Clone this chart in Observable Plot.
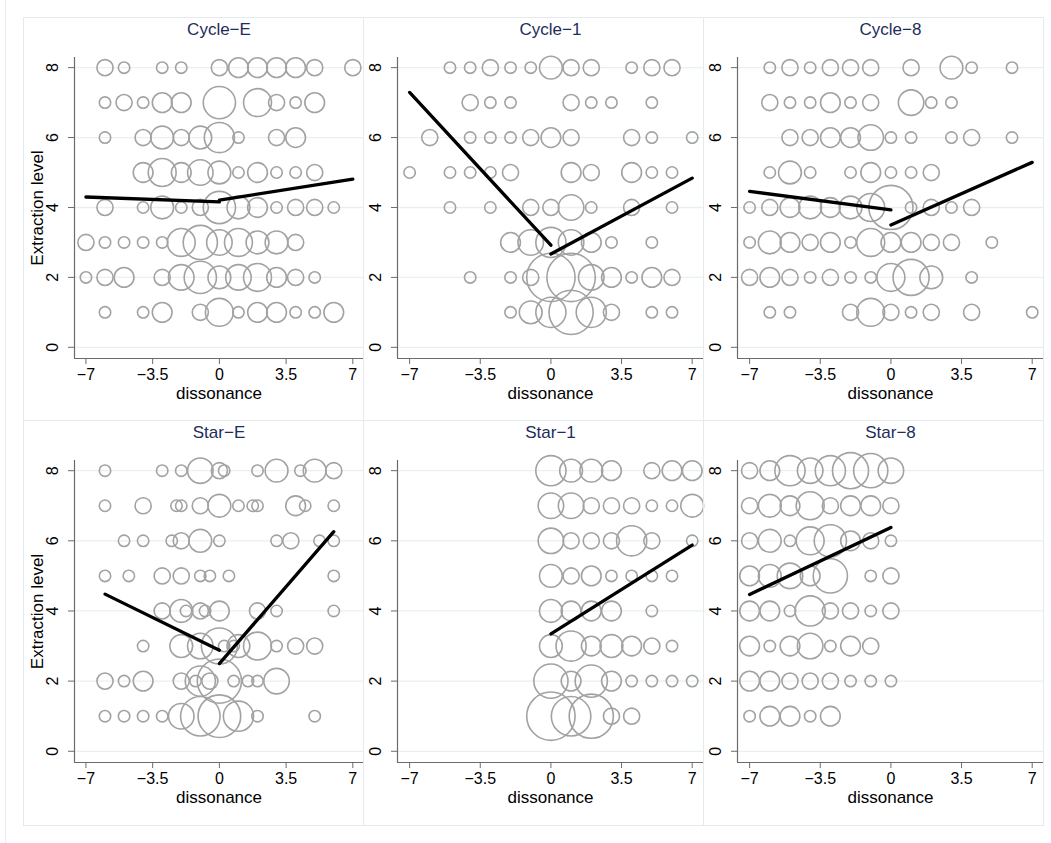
<!DOCTYPE html>
<html><head><meta charset="utf-8">
<script src="https://cdn.jsdelivr.net/npm/d3@7"></script>
<script src="https://cdn.jsdelivr.net/npm/@observablehq/plot@0.6"></script>
<style>
body{margin:0;background:#fff;font-family:"Liberation Sans",Arial,sans-serif}
#wrap{position:relative;width:1051px;height:843px;overflow:hidden;background:#fff}
.box{position:absolute;box-sizing:border-box;border:1px solid #e3ebee}
.pl{position:absolute}
</style></head><body><div id="wrap"></div>
<script>
// ---- tick values ----
const xTicks = [-7, -3.5, 0, 3.5, 7];
const yTicks = [0, 2, 4, 6, 8];
const panelTitles = ["Cycle−E", "Cycle−1", "Cycle−8", "Star−E", "Star−1", "Star−8"];
const xLabel = "dissonance";
const yLabel = "Extraction level";

// ---- bubbles: [dissonance, extraction level, count] ----
const bubblesCycleE = [
  [-6,8,2],[-5,8,1],[-3,8,1],[-2,8,1],[0,8,2],[1,8,3],[2,8,3],[3,8,3],[4,8,3],[5,8,2],[7,8,2],
  [-6,7,1],[-5,7,2],[-4,7,1],[-3,7,3],[-2,7,3],[0,7,8],[2,7,6],[3,7,2],[4,7,1],[5,7,3],
  [-6,6,1],[-4,6,2],[-3,6,4],[-2,6,2],[-1,6,4],[0,6,7],[1,6,1],[3,6,2],[4,6,3],
  [-4,5,3],[-3,5,6],[-2,5,3],[-1,5,5],[0,5,4],[1,5,1],[2,5,3],[3,5,1],[4,5,1],[5,5,2],
  [-6,4,2],[-4,4,1],[-3,4,4],[-2,4,1],[-1,4,2],[0,4,8],[1,4,4],[2,4,3],[3,4,1],[4,4,2],[5,4,2],[6,4,1],
  [-7,3,2],[-6,3,1],[-5,3,1],[-4,3,1],[-3,3,1],[-2,3,6],[-1,3,9],[0,3,5],[1,3,6],[2,3,4],[3,3,4],[4,3,2],
  [-7,2,1],[-6,2,2],[-5,2,3],[-3,2,2],[-2,2,5],[-1,2,8],[0,2,4],[1,2,5],[2,2,6],[3,2,3],[4,2,2],[5,2,1],
  [-6,1,1],[-4,1,1],[-3,1,3],[-1,1,2],[0,1,6],[1,1,1],[2,1,3],[3,1,3],[4,1,1],[5,1,1],[6,1,3]
];
const bubblesCycle1 = [
  [-5,8,1],[-4,8,1],[-3,8,2],[-2,8,1],[-1,8,1],[0,8,4],[1,8,2],[2,8,2],[4,8,1],[5,8,2],[6,8,2],
  [-4,7,2],[-3,7,1],[-2,7,1],[1,7,2],[2,7,1],[3,7,1],[5,7,1],
  [-6,6,2],[-4,6,1],[-3,6,1],[-2,6,1],[-1,6,2],[0,6,3],[1,6,2],[4,6,2],[5,6,1],[7,6,1],
  [-7,5,1],[-5,5,1],[-4,5,1],[-3,5,1],[-2,5,2],[1,5,3],[2,5,2],[4,5,3],[5,5,1],[6,5,1],
  [-5,4,1],[-3,4,1],[-1,4,2],[0,4,2],[1,4,5],[2,4,1],[4,4,2],[6,4,1],
  [-2,3,3],[-1,3,5],[0,3,7],[1,3,5],[2,3,3],[3,3,1],[5,3,1],
  [-4,2,1],[-2,2,1],[-1,2,2],[0,2,18],[1,2,18],[2,2,5],[3,2,3],[4,2,1],[5,2,3],[6,2,2],
  [-2,1,1],[-1,1,4],[0,1,7],[1,1,15],[2,1,7],[3,1,2],[5,1,1],[6,1,1]
];
const bubblesCycle8 = [
  [-6,8,1],[-5,8,2],[-4,8,1],[-3,8,2],[-2,8,2],[-1,8,2],[1,8,2],[3,8,4],[4,8,1],[6,8,1],
  [-6,7,2],[-5,7,1],[-4,7,1],[-3,7,3],[-2,7,1],[-1,7,2],[1,7,5],[2,7,1],[3,7,1],
  [-5,6,2],[-4,6,2],[-3,6,3],[-2,6,3],[-1,6,5],[0,6,1],[1,6,1],[3,6,1],[4,6,2],[6,6,1],
  [-6,5,1],[-5,5,4],[-4,5,1],[-2,5,1],[-1,5,3],[0,5,1],[1,5,1],[2,5,2],
  [-7,4,1],[-6,4,2],[-5,4,3],[-4,4,4],[-3,4,3],[-2,4,4],[-1,4,6],[0,4,15],[1,4,1],[2,4,2],[3,4,1],[4,4,2],
  [-7,3,1],[-6,3,4],[-5,3,3],[-4,3,2],[-3,3,3],[-2,3,1],[-1,3,6],[0,3,3],[1,3,3],[2,3,2],[3,3,2],[5,3,1],
  [-7,2,2],[-6,2,3],[-5,2,2],[-4,2,1],[-3,2,2],[-2,2,1],[-1,2,1],[0,2,6],[1,2,10],[2,2,4],[4,2,1],
  [-6,1,1],[-5,1,1],[-2,1,2],[-1,1,6],[0,1,2],[1,1,1],[2,1,2],[4,1,2],[7,1,1]
];
const bubblesStarE = [
  [-6,8,1],[-3,8,1],[-2,8,1],[-1,8,5],[0,8,2],[0.25,8,1],[2,8,1],[3,8,4],[4.25,8,1],[5,8,4],[6,8,2],
  [-6,7,1],[-4,7,2],[-2.25,7,1],[-2,7,1],[-1,7,2],[0,7,4],[1,7,1],[1.75,7,1],[2,7,1],[4,7,3],[4.5,7,1],[6,7,1],
  [-5,6,1],[-4,6,1],[-2.5,6,1],[-2,6,2],[-1,6,4],[0,6,1],[3,6,1],[3.75,6,2],[5.25,6,1],[6,6,1],
  [-6,5,1],[-4.75,5,1],[-3,5,2],[-2,5,2],[-1,5,1],[-0.5,5,1],[0.5,5,1],[6,5,1],
  [-3,4,2],[-2,4,4],[-1.75,4,1],[-1,4,2],[-0.75,4,1],[0,4,3],[2,4,2],[3,4,1],[6,4,1],
  [-4,3,1],[-2,3,4],[-1,3,5],[0,3,10],[0.25,3,1],[0.75,3,1],[1,3,4],[2,3,6],[3,3,1],[4,3,2],[5,3,2],
  [-6,2,2],[-5,2,1],[-4,2,3],[-2,2,2],[-1.25,2,1],[-1,2,7],[-0.5,2,2],[0,2,15],[0.75,2,1],[1.5,2,1],[2,2,1],[3,2,5],
  [-6,1,1],[-5,1,1],[-4,1,1],[-3,1,1],[-2,1,5],[-1,1,12],[0,1,14],[1,1,7],[2,1,1],[5,1,1]
];
const bubblesStar1 = [
  [0,8,7],[1,8,4],[2,8,4],[3,8,3],[5,8,2],[6,8,3],[7,8,3],
  [0,7,5],[1,7,5],[2,7,2],[3,7,2],[4,7,2],[5,7,1],[6,7,1],[7,7,4],
  [0,6,5],[1,6,2],[2,6,2],[3,6,2],[4,6,7],[5,6,2],[7,6,1],
  [0,5,4],[1,5,2],[2,5,3],[3,5,1],[4,5,1],[5,5,1],[6,5,1],
  [0,4,4],[1,4,3],[2,4,3],[3,4,3],[5,4,1],
  [0,3,4],[1,3,7],[2,3,3],[3,3,4],[4,3,3],[5,3,2],[6,3,1],
  [0,2,9],[1,2,3],[2,2,8],[3,2,3],[4,2,1],[5,2,1],[6,2,1],[7,2,1],
  [0,1,18],[1,1,12],[2,1,15],[3,1,2],[4,1,2]
];
const bubblesStar8 = [
  [-7,8,2],[-6,8,3],[-5,8,7],[-4,8,5],[-3,8,7],[-2,8,10],[-1,8,9],[0,8,5],
  [-7,7,2],[-6,7,4],[-5,7,3],[-4,7,6],[-3,7,2],[-2,7,3],[-1,7,3],[0,7,2],
  [-7,6,2],[-6,6,4],[-5,6,1],[-4,6,6],[-3,6,8],[-2,6,3],[-1,6,2],[0,6,1],
  [-7,5,3],[-6,5,4],[-5,5,5],[-4,5,3],[-3,5,9],[-1,5,1],[0,5,2],
  [-7,4,3],[-6,4,3],[-5,4,1],[-4,4,7],[-3,4,2],[-2,4,2],[-1,4,1],[0,4,2],
  [-7,3,3],[-6,3,1],[-5,3,3],[-4,3,5],[-3,3,1],[-2,3,3],[-1,3,2],
  [-7,2,3],[-6,2,3],[-5,2,2],[-4,2,2],[-3,2,2],[-2,2,1],[-1,2,1],[0,2,1],
  [-7,1,1],[-6,1,3],[-5,1,3],[-4,1,1],[-3,1,3]
];

// ---- fitted segments: [x1, y1, x2, y2] ----
const fitCycleE = [[-7,4.30,0,4.16],[0,4.21,7,4.81]];
const fitCycle1 = [[-7,7.29,0,2.92],[0,2.67,7,4.84]];
const fitCycle8 = [[-7,4.46,0,3.93],[0,3.50,7,5.29]];
const fitStarE  = [[-6,4.48,0,2.88],[0,2.50,6,6.26]];
const fitStar1  = [[0,3.35,7,5.88]];
const fitStar8  = [[-7,4.47,0,6.38]];

const bubbleSets = [bubblesCycleE, bubblesCycle1, bubblesCycle8, bubblesStarE, bubblesStar1, bubblesStar8];
const fitSets = [fitCycleE, fitCycle1, fitCycle8, fitStarE, fitStar1, fitStar8];

// ---- layout ----
const wrap = document.getElementById("wrap");
const outer = document.createElement("div");
outer.style.cssText = "position:absolute;left:5px;top:-2px;width:1px;height:850px;background:#e6eef0";
wrap.appendChild(outer);

const colLeft = [23, 363, 703];
const rowTop = [17, 420];
const rowH = [403, 405];
const mTop = [40, 40];
const mBot = [62, 63];

const xFmt = d => (d < 0 ? "\u2212" + (-d) : String(d));

bubbleSets.forEach((bub, i) => {
  const col = i % 3, row = Math.floor(i / 3);
  const left = colLeft[col], top = rowTop[row], width = 340, height = rowH[row];
  const ml = col === 0 ? 51 : 34;
  const box = document.createElement("div");
  box.className = "box";
  box.style.cssText = `left:${left}px;top:${top}px;width:${width + 1}px;height:${height + 1}px`;
  wrap.appendChild(box);

  const dots = bub.map(([x, y, n]) => ({x, y, n}));
  const segs = fitSets[i].flatMap(([x1, y1, x2, y2], k) => [{x: x1, y: y1, k}, {x: x2, y: y2, k}]);
  const xd = [-7.6, 7.56], yd = [-0.32, 8.29];
  const marks = [
    Plot.ruleY(yTicks, {stroke: "#e8f0f2", strokeWidth: 1.3}),
    Plot.dot(dots, {x: "x", y: "y", r: "n", stroke: "#a2a2a2", strokeWidth: 1.6, fill: "none"}),
    Plot.line(segs, {x: "x", y: "y", z: "k", stroke: "#000", strokeWidth: 3.3}),
    Plot.ruleX([xd[0]], {stroke: "#6b6b6b", strokeWidth: 1.2}),
    Plot.ruleY([yd[0]], {stroke: "#6b6b6b", strokeWidth: 1.2}),
    Plot.axisX({ticks: xTicks, tickSize: 6, tickPadding: 4, tickFormat: xFmt, label: null, stroke: "#6b6b6b", fontSize: 16}),
    Plot.axisY({ticks: yTicks, tickSize: 6, tickRotate: -90, tickPadding: 11, tickFormat: d => String(d), label: null, stroke: "#6b6b6b", fontSize: 16}),
    Plot.text([panelTitles[i]], {frameAnchor: "top", dy: -23, textAnchor: "middle", lineAnchor: "bottom", fontSize: 17, fill: "#1e2d5c"}),
    Plot.text([xLabel], {frameAnchor: "bottom", dy: 40, textAnchor: "middle", lineAnchor: "bottom", fontSize: 17, fill: "#000"})
  ];
  if (col === 0) {
    marks.push(Plot.text([yLabel], {frameAnchor: "left", dx: -32, rotate: -90, textAnchor: "middle", lineAnchor: "bottom", fontSize: 17, fill: "#000"}));
  }
  const svg = Plot.plot({
    width, height,
    marginLeft: ml, marginRight: 0, marginTop: mTop[row], marginBottom: mBot[row],
    style: {background: "none", color: "#000", fontFamily: "'Liberation Sans', Arial, sans-serif", overflow: "visible"},
    x: {domain: xd},
    y: {domain: yd},
    r: {type: "sqrt", domain: [0, 25], range: [0, 28.5]},
    marks
  });
  svg.classList.add("pl");
  svg.style.left = left + "px";
  svg.style.top = top + "px";
  wrap.appendChild(svg);
});
</script>
</body></html>
